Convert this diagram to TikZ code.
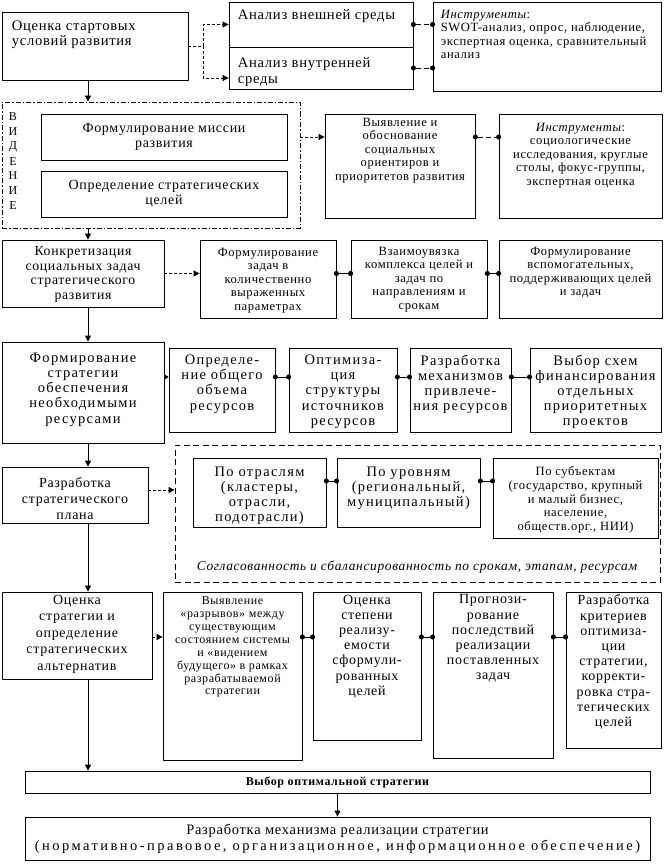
\documentclass[tikz,border=0pt]{standalone}
\usepackage{fontspec}
\setmainfont{Liberation Serif}[LetterSpace=5]
\newfontfamily\wsf{Liberation Serif}[LetterSpace=9]
\newfontfamily\zsf{Liberation Serif}[LetterSpace=17]
\usetikzlibrary{arrows.meta,fit}
\newcommand\fL{\fontsize{14}{15.2}\selectfont}
\newcommand\fA{\fontsize{14.6}{15.5}\selectfont}
\newcommand\fW{\wsf\fontsize{14.5}{15.2}\selectfont}
\newcommand\fM{\fontsize{13.8}{14.5}\selectfont}
\newcommand\fS{\fontsize{12.6}{13.6}\selectfont}
\newcommand\fU{\fontsize{12}{12.9}\selectfont}
\begin{document}
\begin{tikzpicture}[x=1pt,y=-1pt,
 box/.style={draw, line width=0.8pt, inner sep=0pt},
 txt/.style={inner sep=0pt, align=center},
 arr/.style={line width=0.8pt, -{Triangle[length=6pt,width=6pt]}},
 darr/.style={arr, dash pattern=on 3pt off 2pt},
 dots/.style={line width=0.8pt, {Circle[length=5pt]}-{Circle[length=5pt]}, shorten <=-2.5pt, shorten >=-2.5pt},
 ddots/.style={dots, dash pattern=on 5pt off 3pt},
]
\useasboundingbox[fill=white] (0,0) rectangle (666,864);
\coordinate (sp) at (88,0);
\coordinate (r4) at (0,377);
\coordinate (r5) at (0,490);
\coordinate (r5b) at (0,481);
\coordinate (r6) at (0,637);

% Row 1
\node[box, fit={(2,12)(188,80)}] (A) {};
\node[txt, anchor=north west, align=left, font=\fA] (At) at ([xshift=10pt,yshift=-9pt]A.north west) {Оценка стартовых\\условий развития};
\node[box, fit={(229,2)(413,47)}] (B1) {};
\node[txt, anchor=north west, align=left, font=\fA] (B1t) at ([xshift=9pt,yshift=-8pt]B1.north west) {Анализ внешней среды};
\node[box, fit={(229,47)(413,89)}] (B2) {};
\node[txt, anchor=north west, align=left, font=\fA] (B2t) at ([xshift=9pt,yshift=-11pt]B2.north west) {Анализ внутренней\\среды};
\node[box, fit={(433,2)(661,91)}] (C) {};
\node[txt, anchor=north west, align=left, font=\fS] (Ct) at ([xshift=8pt,yshift=-8pt]C.north west) {\textit{Инструменты}:\\SWOT-анализ, опрос, наблюдение,\\экспертная оценка, сравнительный\\анализ};

% Row 2
\node[box, dash pattern=on 5pt off 2pt on 1.5pt off 2pt, fit={(2,102)(300,228)}] (Vb) {};
\foreach \l [count=\i] in {В,И,Д,Е,Н,И,Е}
  \node[txt, font=\fU] (L\i) at (13, 102.3+14.7*\i) {\l};
\node[box, fit={(41,114)(287,160)}] (M1) {};
\node[txt, font=\fL] (M1t) at (M1.center) {Формулирование миссии\\развития};
\node[box, fit={(41,171)(287,217)}] (M2) {};
\node[txt, font=\fL] (M2t) at (M2.center) {Определение стратегических\\целей};
\node[box, fit={(325,114)(475,218)}] (D) {};
\node[txt, anchor=north, font=\fS] (Dt) at ([yshift=-4pt]D.north) {Выявление и\\обоснование\\социальных\\ориентиров и\\приоритетов развития};
\node[box, fit={(499,114)(662,218)}] (E) {};
\node[txt, anchor=north, font=\fS] (Et) at ([yshift=-9pt]E.north) {\textit{Инструменты}:\\социологические\\исследования, круглые\\столы, фокус-группы,\\экспертная оценка};

% Row 3
\node[box, fit={(2,240)(164,307)}] (F) {};
\node[txt, anchor=north, font=\fM] (Ft) at ([yshift=-7pt]F.north) {Конкретизация\\социальных задач\\стратегического\\развития};
\node[box, fit={(200,240)(336,318)}] (G) {};
\node[txt, anchor=north, font=\fS] (Gt) at ([yshift=-8pt]G.north) {Формулирование\\задач в\\количественно\\выраженных\\параметрах};
\node[box, fit={(351,240)(487,318)}] (H) {};
\node[txt, anchor=north, font=\fS] (Ht) at ([yshift=-7pt]H.north) {Взаимоувязка\\комплекса целей и\\задач по\\направлениям и\\срокам};
\node[box, fit={(499,240)(662,318)}] (I) {};
\node[txt, anchor=north, font=\fS] (It) at ([yshift=-7pt]I.north) {Формулирование\\вспомогательных,\\поддерживающих целей\\и задач};

% Row 4
\node[box, fit={(2,342)(164,443)}] (J) {};
\node[txt, anchor=north, font=\fW] (Jt) at ([yshift=-11pt]J.north) {Формирование\\стратегии\\обеспечения\\необходимыми\\ресурсами};
\node[box, fit={(169,348)(275,432)}] (K) {};
\node[txt, anchor=north, font=\fW] (Kt) at ([yshift=-7pt]K.north) {Определе-\\ние общего\\объема\\ресурсов};
\node[box, fit={(289,348)(397,432)}] (Lb) {};
\node[txt, anchor=north, font=\fW] (Lt) at ([yshift=-7pt]Lb.north) {Оптимиза-\\ция\\структуры\\источников\\ресурсов};
\node[box, fit={(410,348)(511,432)}] (Mb) {};
\node[txt, anchor=north, font=\fW] (Mt) at ([yshift=-7pt]Mb.north) {Разработка\\механизмов\\привлече-\\ния ресурсов};
\node[box, fit={(530,348)(661,432)}] (N) {};
\node[txt, anchor=north, font=\fW] (Nt) at ([yshift=-7pt]N.north) {Выбор схем\\финансирования\\отдельных\\приоритетных\\проектов};

% Row 5
\node[box, fit={(2,467)(148,523)}] (O) {};
\node[txt, anchor=north, font=\fontsize{14}{16}\selectfont] (Ot) at ([yshift=-11pt]O.north) {Разработка\\стратегического\\плана};
\node[box, dash pattern=on 6pt off 3.5pt, fit={(175,445)(660,582)}] (P) {};
\node[box, fit={(193,458)(326,527)}] (Q) {};
\node[txt, anchor=north, font=\fW] (Qt) at ([yshift=-9pt]Q.north) {По отраслям\\(кластеры,\\отрасли,\\подотрасли)};
\node[box, fit={(337,458)(480,527)}] (R) {};
\node[txt, anchor=north, font=\fW] (Rt) at ([yshift=-9pt]R.north) {По уровням\\(региональный,\\муниципальный)};
\node[box, fit={(493,458)(658,538)}] (S) {};
\node[txt, anchor=north, font=\fS] (St) at ([yshift=-9pt]S.north) {По субъектам\\(государство, крупный\\и малый бизнес,\\население,\\обществ.орг., НИИ)};
\node[txt, font=\fontsize{13.4}{14}\selectfont\itshape] (Pt) at (417,567) {Согласованность и сбалансированность по срокам, этапам, ресурсам};

% Row 6
\node[box, fit={(2,592)(152,679)}] (T) {};
\node[txt, anchor=north, font=\fontsize{14}{16.5}\selectfont] (Tt) at ([yshift=-3pt]T.north) {Оценка\\стратегии и\\определение\\стратегических\\альтернатив};
\node[box, fit={(163,592)(302,760)}] (U) {};
\node[txt, anchor=north, font=\fU] (Ut) at ([yshift=-5pt]U.north) {Выявление\\«разрывов» между\\существующим\\состоянием системы\\и «видением\\будущего» в рамках\\разрабатываемой\\стратегии};
\node[box, fit={(313,592)(421,740)}] (V) {};
\node[txt, anchor=north, font=\fL] (Vt) at ([yshift=-3pt]V.north) {Оценка\\степени\\реализу-\\емости\\сформули-\\рованных\\целей};
\node[box, fit={(433,592)(553,758)}] (W) {};
\node[txt, anchor=north, font=\fL] (Wt) at ([yshift=-3pt]W.north) {Прогнози-\\рование\\последствий\\реализации\\поставленных\\задач};
\node[box, fit={(566,592)(661,748)}] (X) {};
\node[txt, anchor=north, font=\fL] (Xt) at ([yshift=-3pt]X.north) {Разработка\\критериев\\оптимиза-\\ции\\стратегии,\\корректи-\\ровка стра-\\тегических\\целей};

% Row 7
\node[box, fit={(25,771)(650,793)}] (Y) {};
\node[txt, font=\fontsize{12}{13}\selectfont\bfseries] (Yt) at (Y.center) {Выбор оптимальной стратегии};
\node[box, fit={(25,817)(650,860)}] (Z) {};
\node[txt, font=\fontsize{14.5}{16}\selectfont] (Zt) at (Z.center) {Разработка механизма реализации стратегии\\{\zsf(нормативно-правовое, организационное, информационное обеспечение)}};

% Connectors
\draw[darr] (A.east) -- ++(15,0) |- (B1.west);
\draw[darr] (A.east) -- ++(15,0) |- ([yshift=-10pt]B2.west);
\draw[ddots] (B1.east) -- (B1.east -| C.west);
\draw[ddots] (B2.east) -- (B2.east -| C.west);
\draw[arr] (A.south -| sp) -- (Vb.north -| sp);
\draw[darr] (Vb.east |- M1.east) -- (D.west |- M1.east);
\draw[ddots] (D.east |- M1.east) -- (E.west |- M1.east);
\draw[arr] (Vb.south -| sp) -- (F.north -| sp);
\draw[darr] (F.east) -- (F.east -| G.west);
\draw[dots] (F.east -| G.east) -- (F.east -| H.west);
\draw[dots] (F.east -| H.east) -- (F.east -| I.west);
\draw[arr] (F.south -| sp) -- (J.north -| sp);
\draw[line width=0.8pt, dash pattern=on 2pt off 1pt, -{Triangle[length=4pt,width=5pt]}] (J.east |- r4) -- (K.west |- r4);
\draw[dots] (K.east |- r4) -- (Lb.west |- r4);
\draw[dots] (Lb.east |- r4) -- (Mb.west |- r4);
\draw[dots] (Mb.east |- r4) -- (N.west |- r4);
\draw[arr] (J.south -| sp) -- (O.north -| sp);
\draw[darr] (O.east |- r5) -- (P.west |- r5);
\draw[dots] (Q.east |- r5b) -- (R.west |- r5b);
\draw[dots] (R.east |- r5b) -- (S.west |- r5b);
\draw[arr] (O.south -| sp) -- (T.north -| sp);
\draw[darr] (T.east |- r6) -- (U.west |- r6);
\draw[dots] (U.east |- r6) -- (V.west |- r6);
\draw[dots] (V.east |- r6) -- (W.west |- r6);
\draw[dots] (W.east |- r6) -- (X.west |- r6);
\draw[arr] (T.south -| sp) -- (Y.north -| sp);
\draw[arr] (Y.south) -- (Z.north);
\end{tikzpicture}
\end{document}
